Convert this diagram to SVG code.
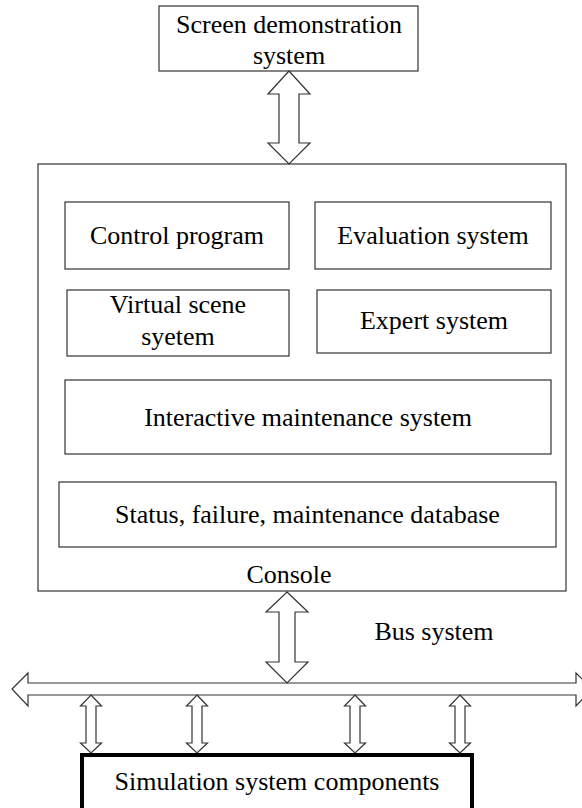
<svg xmlns="http://www.w3.org/2000/svg" width="582" height="808" viewBox="0 0 582 808">
<style>
.box{fill:#fff;stroke:#333;stroke-width:1.2}
.thick{fill:#fff;stroke:#000;stroke-width:4}
.arr{fill:#fff;stroke:#333;stroke-width:1.2;stroke-linejoin:miter}
text{font-family:"Liberation Serif","Times New Roman",serif;font-size:26px;fill:#000;text-anchor:middle}
</style>
<rect width="582" height="808" fill="#fff"/>
<g id="screen">
<rect class="box" x="159" y="6" width="259" height="65"/>
<text x="289" y="33">Screen demonstration</text>
<text x="289" y="64">system</text>
</g>
<g id="console">
<rect class="box" x="38" y="164" width="528" height="427"/>
<text x="289" y="583">Console</text>
</g>
<g id="control">
<rect class="box" x="65" y="202" width="224" height="67"/>
<text x="177" y="244">Control program</text>
</g>
<g id="evaluation">
<rect class="box" x="315" y="202" width="236" height="67"/>
<text x="433" y="244">Evaluation system</text>
</g>
<g id="virtual">
<rect class="box" x="67" y="290" width="222" height="66"/>
<text x="178" y="313">Virtual scene</text>
<text x="178" y="345">syetem</text>
</g>
<g id="expert">
<rect class="box" x="317" y="290" width="234" height="63"/>
<text x="434" y="329">Expert system</text>
</g>
<g id="interactive">
<rect class="box" x="65" y="380" width="486" height="74"/>
<text x="308" y="426">Interactive maintenance system</text>
</g>
<g id="database">
<rect class="box" x="59" y="482" width="497" height="65"/>
<text x="307.5" y="523">Status, failure, maintenance database</text>
</g>
<g id="bus">
<polygon class="arr" points="12,689 28,673 28,683 576,683 576,673 592,689 576,706 576,695 28,695 28,706"/>
<text x="434" y="640">Bus system</text>
</g>
<g id="simulation">
<rect class="thick" x="82" y="755" width="390" height="60"/>
<text x="277" y="790">Simulation system components</text>
</g>
<g id="connectors">
<polygon class="arr" points="289,71 310,94 299,94 299,143 310,143 289,164 268,143 279,143 279,94 268,94"/>
<polygon class="arr" points="287,592 308,612 295,612 295,662 308,662 287,683 266,662 279,662 279,612 266,612"/>
<polygon class="arr" points="91,695 101.5,706 96,706 96,743 101.5,743 91,753 80.5,743 86,743 86,706 80.5,706"/>
<polygon class="arr" points="197,695 207.5,706 202,706 202,743 207.5,743 197,753 186.5,743 192,743 192,706 186.5,706"/>
<polygon class="arr" points="355,695 365.5,706 360,706 360,743 365.5,743 355,753 344.5,743 350,743 350,706 344.5,706"/>
<polygon class="arr" points="460,695 470.5,706 465,706 465,743 470.5,743 460,753 449.5,743 455,743 455,706 449.5,706"/>
</g>
</svg>
